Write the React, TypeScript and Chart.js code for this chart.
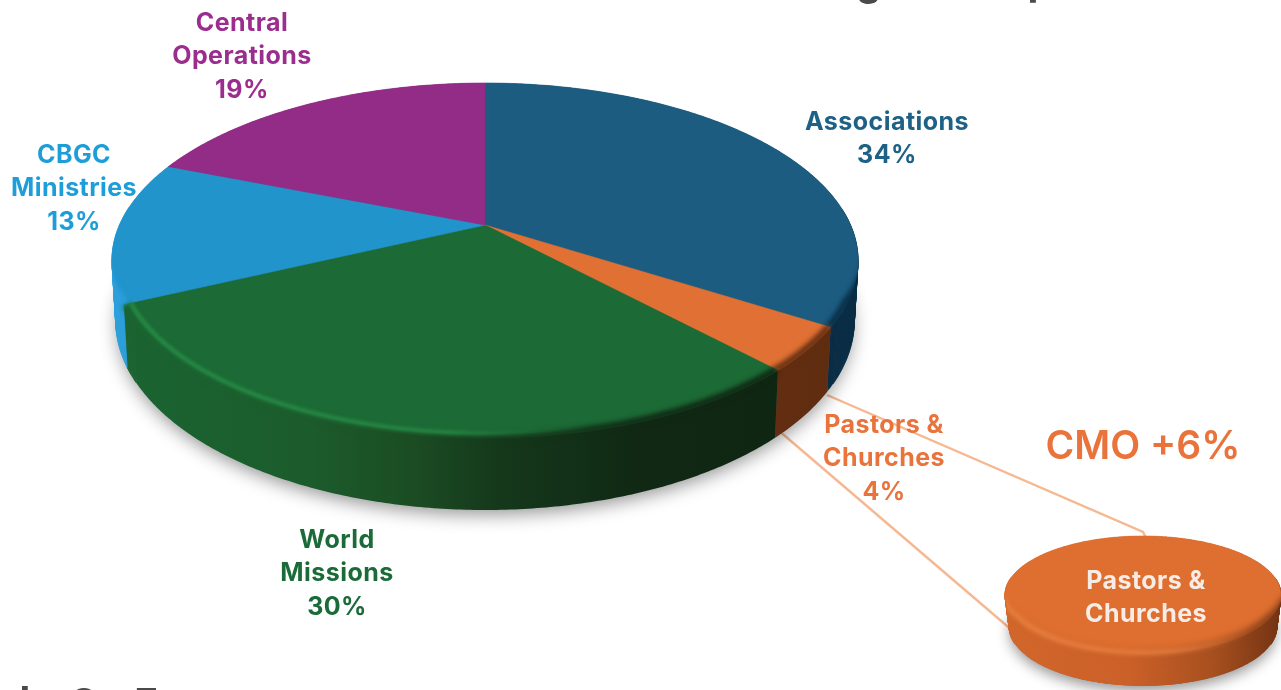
import React, { useEffect, useRef } from "react";
import { Chart, registerables } from "chart.js";

Chart.register(...registerables);

// ---- data ----
const categories = ["Associations", "Pastors & Churches", "World Missions", "CBGC Ministries", "Central Operations"];
const shares = [34, 4, 30, 13, 19];
const insetCategory = ["Pastors & Churches"];
const insetShare = [100];
const calloutText = "CMO +6%";

// ---- styles ----
const faceColors = ["#1B5C80", "#E07033", "#1C6B36", "#2194CC", "#932C87"];
const sideStops: string[][] = [
  ["#0E3F5E", "#0B3550", "#082C44"],
  ["#74360F", "#6E3313", "#5F2C10"],
  ["#1A6431", "#1C5A2B", "#1B4A22", "#132F17", "#0F2612"],
  ["#2BA0DC", "#2B9CD8"],
  ["#7A2470", "#7A2470"],
];
const labelColors = ["#1D6286", "#E9733A", "#1A6B38", "#1E9ED8", "#9B2D8E"];
const labelLines = [
  ["Associations", "34%"],
  ["Pastors &", "Churches", "4%"],
  ["World", "Missions", "30%"],
  ["CBGC", "Ministries", "13%"],
  ["Central", "Operations", "19%"],
];
const labelAnchors = [
  [887, 122],
  [884, 425],
  [337, 540],
  [74, 155],
  [242, 23],
];
const LINE_H = 33.7;
const FONT = '"Inter", "Noto Sans", sans-serif';

type Disc = { cx: number; cy: number; R: number; S: number; k: number; D: number; xs: number };
const mainDisc: Disc = { cx: 485, cy: 225, R: 365.5, S: 170.4, k: 0.2, D: 57.6, xs: 0.99 };
const insetDisc: Disc = { cx: 1143, cy: 595, R: 138, S: 59, k: 0, D: 32, xs: 0.97 };

function pt(d: Disc, a: number, r = 1, depth = 0): [number, number] {
  const u = r * Math.cos(a);
  const v = r * Math.sin(a);
  const w = 1 - d.k * v;
  let x = d.cx + (d.R * u) / w;
  let y = d.cy + (d.S * v) / w;
  if (depth) {
    x = d.cx + (x - d.cx) * (1 - (1 - d.xs) * depth);
    y += (depth * d.D) / w;
  }
  return [x, y];
}

function samples(a0: number, a1: number) {
  const n = Math.max(2, Math.ceil(Math.abs(a1 - a0) / 0.01));
  const out: number[] = [];
  for (let i = 0; i <= n; i++) out.push(a0 + ((a1 - a0) * i) / n);
  return out;
}

function traceSilhouette(ctx: CanvasRenderingContext2D, d: Disc) {
  const t = Math.asin(d.k);
  ctx.beginPath();
  samples(Math.PI - t, Math.PI * 2 + t).forEach((a, i) => {
    const [x, y] = pt(d, a);
    if (i) ctx.lineTo(x, y);
    else ctx.moveTo(x, y);
  });
  samples(t, Math.PI - t).forEach((a) => {
    const [x, y] = pt(d, a, 1, 1);
    ctx.lineTo(x, y);
  });
  ctx.closePath();
  samples(0, Math.PI * 2).forEach((a, i) => {
    const [x, y] = pt(d, a);
    if (i) ctx.lineTo(x, y);
    else ctx.moveTo(x, y);
  });
  ctx.closePath();
}

function rimStroke(
  ctx: CanvasRenderingContext2D,
  d: Disc,
  a0: number,
  a1: number,
  r: number,
  width: number,
  blur: number,
  style: string | CanvasGradient
) {
  const pts = samples(a0, a1).filter((a) => Math.sin(a) > 0.02);
  if (pts.length < 2) return;
  ctx.save();
  traceSilhouette(ctx, d);
  ctx.clip();
  ctx.filter = `blur(${blur}px)`;
  ctx.beginPath();
  pts.forEach((a, i) => {
    const taper = 0.05 * Math.max(0, 1 - Math.sin(a) / 0.42);
    const [x, y] = pt(d, a, r + taper);
    if (i) ctx.lineTo(x, y);
    else ctx.moveTo(x, y);
  });
  ctx.strokeStyle = style;
  ctx.lineWidth = width;
  ctx.stroke();
  ctx.restore();
}

function drawShadow(ctx: CanvasRenderingContext2D, d: Disc, off: number, blur: number) {
  ctx.save();
  ctx.shadowColor = "rgba(0,0,0,0.42)";
  ctx.shadowBlur = blur;
  ctx.shadowOffsetY = off;
  ctx.fillStyle = "#555";
  ctx.beginPath();
  samples(0, Math.PI * 2).forEach((a, i) => {
    const [x, y] = pt(d, a, 0.995, 1);
    if (i) ctx.lineTo(x, y);
    else ctx.moveTo(x, y);
  });
  ctx.closePath();
  ctx.fill();
  ctx.restore();
}

// the side wall is swept from the upper rim to the lower rim; quads close to the
// silhouette tangent are filled one by one so the wall's outline has no notch
function drawSlice(
  ctx: CanvasRenderingContext2D,
  d: Disc,
  a0: number,
  a1: number,
  side: string | CanvasGradient
) {
  const as = samples(a0, a1);
  ctx.save();
  ctx.fillStyle = side;
  ctx.strokeStyle = side;
  ctx.lineWidth = 0.7;
  const quad = (i: number) => {
    const p = [pt(d, as[i]), pt(d, as[i + 1]), pt(d, as[i + 1], 1, 1), pt(d, as[i], 1, 1)];
    ctx.moveTo(p[0][0], p[0][1]);
    ctx.lineTo(p[1][0], p[1][1]);
    ctx.lineTo(p[2][0], p[2][1]);
    ctx.lineTo(p[3][0], p[3][1]);
    ctx.closePath();
  };
  const nearTangent = (a: number) => Math.abs(Math.sin(a) - d.k) < 0.3;
  ctx.beginPath();
  for (let i = 0; i < as.length - 1; i++) if (!nearTangent(as[i])) quad(i);
  ctx.fill();
  for (let i = 0; i < as.length - 1; i++) {
    if (nearTangent(as[i])) {
      ctx.beginPath();
      quad(i);
      ctx.fill();
      ctx.stroke();
    }
  }
  ctx.restore();
}

function drawFace(ctx: CanvasRenderingContext2D, d: Disc, a0: number, a1: number, color: string, full: boolean) {
  ctx.beginPath();
  if (!full) ctx.moveTo(d.cx, d.cy);
  samples(a0, a1).forEach((a, i) => {
    const [x, y] = pt(d, a);
    if (i || !full) ctx.lineTo(x, y);
    else ctx.moveTo(x, y);
  });
  ctx.closePath();
  ctx.fillStyle = color;
  ctx.fill();
  ctx.strokeStyle = color;
  ctx.lineWidth = 0.6;
  ctx.stroke();
}

function hGrad(ctx: CanvasRenderingContext2D, x0: number, x1: number, stops: [number, string][]) {
  const g = ctx.createLinearGradient(x0, 0, x1, 0);
  stops.forEach(([p, c]) => g.addColorStop(p, c));
  return g;
}

const piePainter = {
  id: "piePainter",
  beforeDatasetsDraw(chart: any) {
    const ctx: CanvasRenderingContext2D = chart.ctx;
    const orange = chart.getDatasetMeta(0).data[1];
    const a = pt(mainDisc, orange.startAngle, 1, 1.05);
    const b = pt(mainDisc, orange.endAngle, 1, 0.85);
    const topEnd = pt(insetDisc, -Math.PI / 2);
    const leftEnd = pt(insetDisc, Math.PI * 0.97, 1, 0.85);
    ctx.save();
    ctx.strokeStyle = "#F5B891";
    ctx.lineWidth = 2.4;
    ctx.beginPath();
    ctx.moveTo(a[0], a[1]);
    ctx.lineTo(topEnd[0], topEnd[1] - 4);
    ctx.lineTo(topEnd[0] + 3, topEnd[1] + 2);
    ctx.moveTo(b[0], b[1]);
    ctx.lineTo(leftEnd[0], leftEnd[1]);
    ctx.stroke();
    ctx.restore();
  },
  beforeDatasetDraw(chart: any, args: any) {
    const ctx: CanvasRenderingContext2D = chart.ctx;
    const arcs = args.meta.data;
    if (args.index === 1) {
      const d = insetDisc;
      const a0 = arcs[0].startAngle;
      const a1 = arcs[0].endAngle;
      drawShadow(ctx, d, 5, 14);
      const side = hGrad(ctx, d.cx - d.R, d.cx + d.R, [
        [0, "#D2672B"],
        [0.45, "#CB6029"],
        [0.75, "#A8501F"],
        [1, "#733413"],
      ]);
      drawSlice(ctx, d, a0, a1, side);
      drawFace(ctx, d, a0, a1, "#DF6F30", true);
      rimStroke(ctx, d, a0, a1, 0.995, 8, 3.5, side);
      const hl = hGrad(ctx, d.cx - d.R, d.cx + d.R, [
        [0, "rgba(238,135,70,0.75)"],
        [0.6, "rgba(238,135,70,0.7)"],
        [0.9, "rgba(238,135,70,0)"],
      ]);
      rimStroke(ctx, d, a0, a1, 0.975, 5, 2, hl);
      return false;
    }
    const d = mainDisc;
    drawShadow(ctx, d, 6, 18);
    const left = d.cx - 374;
    const right = d.cx + 374;
    const sideStyles = arcs.map((_: any, i: number) =>
      hGrad(
        ctx,
        left,
        right,
        sideStops[i].map((c, j, all) => [j / (all.length - 1), c] as [number, string])
      )
    );
    sideStyles[2] = hGrad(ctx, 125, 770, [
      [0, "#1A6431"],
      [0.28, "#1C5C2C"],
      [0.45, "#1B4C23"],
      [0.58, "#15381B"],
      [0.8, "#102814"],
      [1, "#0F2612"],
    ]);
    arcs.forEach((arc: any, i: number) => drawSlice(ctx, d, arc.startAngle, arc.endAngle, sideStyles[i]));
    arcs.forEach((arc: any, i: number) => drawFace(ctx, d, arc.startAngle, arc.endAngle, faceColors[i], false));
    arcs.forEach((arc: any, i: number) => {
      if (i === 4) return;
      rimStroke(ctx, d, arc.startAngle, arc.endAngle, 0.995, 7, 2.5, sideStyles[i]);
    });
    const hlGreen = hGrad(ctx, 125, 770, [
      [0, "rgba(38,140,70,0.9)"],
      [0.5, "rgba(38,140,70,0.85)"],
      [0.72, "rgba(38,140,70,0)"],
    ]);
    rimStroke(ctx, d, arcs[2].startAngle, arcs[2].endAngle, 0.982, 4.5, 1.6, hlGreen);
    return false;
  },
  afterDatasetsDraw(chart: any) {
    const ctx: CanvasRenderingContext2D = chart.ctx;
    ctx.save();
    ctx.textAlign = "center";
    ctx.textBaseline = "middle";
    (ctx as any).letterSpacing = "0.45px";
    ctx.font = `700 25px ${FONT}`;
    labelLines.forEach((lines, i) => {
      ctx.fillStyle = labelColors[i];
      lines.forEach((t, j) => ctx.fillText(t, labelAnchors[i][0], labelAnchors[i][1] + j * LINE_H));
    });
    ctx.fillStyle = "#F7EDE6";
    ["Pastors &", "Churches"].forEach((t, j) => ctx.fillText(t, 1146, 581 + j * LINE_H));
    (ctx as any).letterSpacing = "0px";
    ctx.fillStyle = "#E9733A";
    ctx.font = `600 39px ${FONT}`;
    ctx.fillText(calloutText, 1143, 447);
    // fragments of the cropped title and footer
    ctx.fillStyle = "#4A4A4A";
    ctx.font = `700 40px ${FONT}`;
    ctx.textBaseline = "alphabetic";
    ctx.fillText("g", 869, -5);
    ctx.fillText("p", 1040, -5);
    ctx.fillText("h", 32, 715);
    ctx.fillText("O", 84, 717);
    ctx.fillText("F", 146, 717);
    ctx.restore();
  },
};

export default function App() {
  const ref = useRef<HTMLCanvasElement>(null);
  useEffect(() => {
    const chart = new Chart(ref.current as HTMLCanvasElement, {
      type: "pie",
      data: {
        labels: categories,
        datasets: [
          { data: shares, backgroundColor: faceColors, label: "Share" },
          { data: insetShare, backgroundColor: ["#DF6F30"], label: insetCategory[0] },
        ],
      },
      options: {
        responsive: false,
        animation: false,
        plugins: { legend: { display: false }, tooltip: { enabled: false } },
      },
      plugins: [piePainter],
    } as any);
    return () => chart.destroy();
  }, []);
  return (
    <div style={{ position: "absolute", left: 0, top: 0, width: 1281, height: 690, overflow: "hidden", background: "#fff" }}>
      <canvas ref={ref} width={1281} height={690} style={{ display: "block", width: 1281, height: 690, filter: "blur(0.55px)" }} />
    </div>
  );
}
